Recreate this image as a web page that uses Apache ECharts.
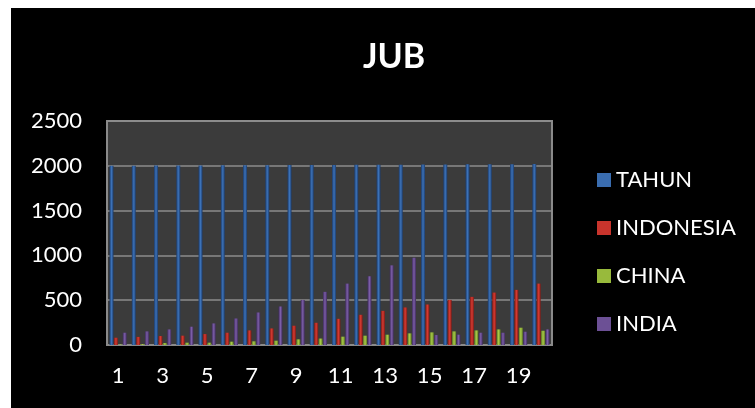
<!DOCTYPE html>
<html>
<head>
<meta charset="utf-8">
<script src="https://cdn.jsdelivr.net/npm/echarts@6/dist/echarts.min.js"></script>
<style>
  html, body { margin: 0; padding: 0; background: #ffffff; }
  #chart { position: absolute; left: 11px; top: 8px; width: 744px; height: 400px; }
</style>
</head>
<body>
<div id="chart"></div>
<script>
// Category labels (1..20)
const categories = ['1','2','3','4','5','6','7','8','9','10','11','12','13','14','15','16','17','18','19','20'];

// Series values
const tahun     = [2000, 2001, 2002, 2003, 2004, 2005, 2006, 2007, 2008, 2009, 2010, 2011, 2012, 2013, 2014, 2015, 2016, 2017, 2018, 2019];
const indonesia = [81, 90, 100, 104, 122, 137, 163, 185, 215, 248, 292, 337, 381, 419, 452, 503, 537, 585, 615, 685];
const china     = [5, 10, 22, 26, 26, 37, 41, 48, 63, 72, 93, 104, 115, 130, 141, 152, 163, 174, 193, 159];
const india     = [137, 152, 174, 204, 241, 296, 363, 430, 503, 593, 685, 767, 889, 974, 111, 115, 137, 137, 148, 174];

// Y axis ticks
const yTicks = { min: 0, max: 2500, interval: 500 };

const FONT = 'Lato';

// Cylinder-like shading across each bar
function shade(edge, mid) {
  return new echarts.graphic.LinearGradient(0, 0, 1, 0, [
    { offset: 0, color: edge },
    { offset: 0.5, color: mid },
    { offset: 1, color: edge }
  ]);
}

const palette = [
  { name: 'TAHUN',     data: tahun,     edge: '#1d3c6b', mid: '#3c72b8', flat: '#3a6db0' },
  { name: 'INDONESIA', data: indonesia, edge: '#7e1a16', mid: '#d63b32', flat: '#c8342c' },
  { name: 'CHINA',     data: china,     edge: '#5f7a22', mid: '#a9cb48', flat: '#98ba3c' },
  { name: 'INDIA',     data: india,     edge: '#3f2c5c', mid: '#7c5ea8', flat: '#6c5095' }
];

const chart = echarts.init(document.getElementById('chart'), null, { renderer: 'canvas' });

chart.setOption({
  backgroundColor: '#000000',
  animation: false,
  textStyle: { fontFamily: FONT },
  title: {
    text: 'JUB',
    left: 378,
    top: 27,
    textAlign: 'center',
    textStyle: { color: '#ffffff', fontSize: 34, fontWeight: 'bold', fontFamily: FONT }
  },
  legend: {
    orient: 'vertical',
    left: 581,
    top: 156,
    itemWidth: 14,
    itemHeight: 14,
    itemGap: 26,
    icon: 'rect',
    textStyle: { color: '#ffffff', fontSize: 22, fontFamily: FONT },
    data: palette.map(p => ({ name: p.name, itemStyle: { color: p.flat } }))
  },
  grid: {
    left: 96,
    right: 203,
    top: 113,
    bottom: 63,
    show: true,
    backgroundColor: '#3b3b3b',
    borderColor: '#8a8a8a',
    borderWidth: 2
  },
  xAxis: {
    type: 'category',
    data: categories,
    axisLine: { show: true, lineStyle: { color: '#8a8a8a', width: 2 } },
    axisTick: { show: false },
    axisLabel: { color: '#ffffff', fontSize: 22, fontFamily: FONT, margin: 20, interval: 1 },
    splitLine: { show: false }
  },
  yAxis: {
    type: 'value',
    min: yTicks.min,
    max: yTicks.max,
    interval: yTicks.interval,
    axisLine: { show: false },
    axisTick: { show: false },
    axisLabel: {
      color: '#ffffff', fontSize: 22, fontFamily: FONT, margin: 25,
      formatter: v => String(v)
    },
    splitLine: { show: true, lineStyle: { color: '#8c8c8c', width: 1.5 } }
  },
  series: palette.map(p => ({
    name: p.name,
    type: 'bar',
    data: p.data,
    barWidth: 4,
    barGap: '10%',
    itemStyle: { color: shade(p.edge, p.mid) }
  }))
});
</script>
</body>
</html>
